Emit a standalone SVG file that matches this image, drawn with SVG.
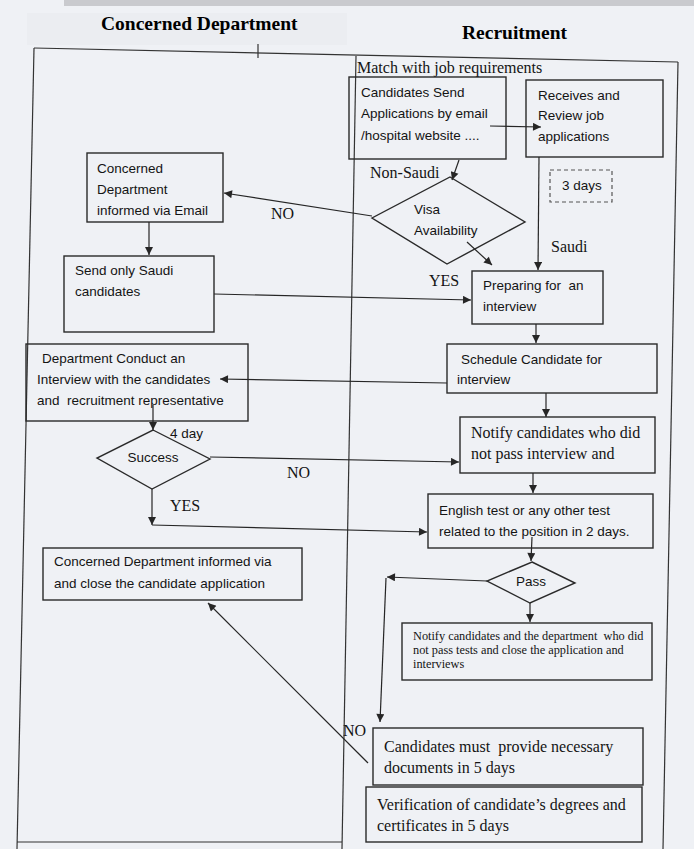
<svg xmlns="http://www.w3.org/2000/svg" width="694" height="849" viewBox="0 0 694 849">
  <defs>
    <marker id="arrow" viewBox="0 0 10 10" refX="10" refY="5" markerWidth="9" markerHeight="8" markerUnits="userSpaceOnUse" orient="auto">
      <path d="M0,0 L10,5 L0,10 z" fill="#262626"/>
    </marker>
    <style>
      text { white-space: pre; }
      .frame { fill: none; stroke: #333; stroke-width: 1.2; }
      .box { fill: none; stroke: #2a2a2a; stroke-width: 1.4; }
      .dash { fill: none; stroke: #555; stroke-width: 1.2; stroke-dasharray: 4 3; }
      .edge { fill: none; stroke: #262626; stroke-width: 1.2; marker-end: url(#arrow); }
      .sans { font-family: "Liberation Sans", Arial, sans-serif; font-size: 13.5px; fill: #141414; }
      .serif { font-family: "Liberation Serif", "Times New Roman", serif; font-size: 16px; fill: #141414; }
      .small { font-family: "Liberation Serif", "Times New Roman", serif; font-size: 12.3px; fill: #141414; }
      .head { font-family: "Liberation Serif", "Times New Roman", serif; font-size: 19.5px; font-weight: bold; fill: #000; }
    </style>
  </defs>

  <!-- page -->
  <rect x="0" y="0" width="694" height="849" fill="#eff1f5"/>
  <rect x="64" y="0" width="630" height="6" fill="#c9cace"/>
  <rect x="27" y="13" width="320" height="32" fill="#ebedf1"/>

  <!-- lane headings -->
  <text class="head" x="101" y="30">Concerned Department</text>
  <text class="head" x="462" y="39">Recruitment</text>

  <!-- swimlane frame -->
  <g id="lanes">
    <path class="frame" d="M34,48 L678,62"/>
    <path class="frame" d="M34,48 L17,849"/>
    <path class="frame" d="M678,62 L663,849"/>
    <path class="frame" d="M356,56 L342,849"/>
    <path class="frame" d="M258,44 L258,58"/>
    <path class="frame" d="M17,842 L342,842"/>
  </g>

  <text class="serif" x="357" y="73">Match with job requirements</text>

  <!-- Recruitment lane -->
  <g id="send-applications">
    <rect class="box" x="349" y="77" width="157" height="82"/>
    <text class="sans" x="361" y="97">Candidates Send</text>
    <text class="sans" x="361" y="118">Applications by email</text>
    <text class="sans" x="361" y="140">/hospital website ....</text>
  </g>

  <g id="review-applications">
    <rect class="box" x="526" y="80" width="137" height="77"/>
    <text class="sans" x="538" y="100">Receives and</text>
    <text class="sans" x="538" y="120">Review job</text>
    <text class="sans" x="538" y="141">applications</text>
  </g>

  <g id="three-days">
    <rect class="dash" x="550" y="170" width="62" height="32"/>
    <text class="sans" x="562" y="190">3 days</text>
  </g>

  <g id="visa-availability">
    <polygon class="box" points="450,177 525,222 447,264 372,218"/>
    <text class="sans" x="414" y="214">Visa</text>
    <text class="sans" x="414" y="235">Availability</text>
  </g>

  <g id="prepare-interview">
    <rect class="box" x="472" y="271" width="131" height="53"/>
    <text class="sans" x="483" y="290">Preparing for  an</text>
    <text class="sans" x="483" y="311">interview</text>
  </g>

  <g id="schedule-interview">
    <rect class="box" x="447" y="344" width="210" height="49"/>
    <text class="sans" x="461" y="364">Schedule Candidate for</text>
    <text class="sans" x="457" y="384">interview</text>
  </g>

  <g id="notify-interview">
    <rect class="box" x="460" y="417" width="195" height="56"/>
    <text class="serif" x="471" y="438">Notify candidates who did</text>
    <text class="serif" x="471" y="459">not pass interview and</text>
  </g>

  <g id="english-test">
    <rect class="box" x="428" y="494" width="225" height="54"/>
    <text class="sans" x="439" y="515">English test or any other test</text>
    <text class="sans" x="439" y="536">related to the position in 2 days.</text>
  </g>

  <g id="pass">
    <polygon class="box" points="532,562 575,583 530,603 487,581"/>
    <text class="sans" x="531" y="586" font-size="11" text-anchor="middle">Pass</text>
  </g>

  <g id="notify-tests">
    <rect class="box" x="402" y="623" width="250" height="57"/>
    <text class="small" x="413" y="640">Notify candidates and the department  who did</text>
    <text class="small" x="413" y="654">not pass tests and close the application and</text>
    <text class="small" x="413" y="668">interviews</text>
  </g>

  <g id="provide-documents">
    <rect class="box" x="373" y="728" width="270" height="57"/>
    <text class="serif" x="384" y="752">Candidates must  provide necessary</text>
    <text class="serif" x="384" y="773">documents in 5 days</text>
  </g>

  <g id="verify-degrees">
    <rect class="box" x="366" y="787" width="276" height="55"/>
    <text class="serif" x="377" y="810">Verification of candidate’s degrees and</text>
    <text class="serif" x="377" y="831">certificates in 5 days</text>
  </g>

  <!-- Concerned Department lane -->
  <g id="informed-email">
    <rect class="box" x="87" y="153" width="136" height="69"/>
    <text class="sans" x="97" y="173">Concerned</text>
    <text class="sans" x="97" y="194">Department</text>
    <text class="sans" x="97" y="215">informed via Email</text>
  </g>

  <g id="send-saudi">
    <rect class="box" x="64" y="256" width="150" height="76"/>
    <text class="sans" x="75" y="275">Send only Saudi</text>
    <text class="sans" x="75" y="296">candidates</text>
  </g>

  <g id="conduct-interview">
    <rect class="box" x="26" y="344" width="222" height="77"/>
    <text class="sans" x="42" y="363">Department Conduct an</text>
    <text class="sans" x="37" y="384">Interview with the candidates</text>
    <text class="sans" x="37" y="405">and  recruitment representative</text>
  </g>

  <g id="success">
    <polygon class="box" points="153,430 210,459 152,489 97,458"/>
    <text class="sans" x="153" y="462" text-anchor="middle">Success</text>
  </g>

  <g id="close-application">
    <rect class="box" x="43" y="548" width="259" height="52"/>
    <text class="sans" x="54" y="566">Concerned Department informed via</text>
    <text class="sans" x="54" y="588">and close the candidate application</text>
  </g>

  <!-- connectors -->
  <g id="connectors">
    <path class="edge" d="M490,126 L541,127"/>
    <path class="edge" d="M459,160 L452,180"/>
    <path class="edge" d="M372,216 L224,193"/>
    <path class="edge" d="M467,242 L492,265"/>
    <path class="edge" d="M539,157 L538,270"/>
    <path class="edge" d="M149,222 L149,255"/>
    <path class="edge" d="M214,294 L471,300"/>
    <path class="edge" d="M536,324 L536,343"/>
    <path class="edge" d="M447,383 L220,379"/>
    <path class="edge" d="M153,405 L153,430"/>
    <path class="edge" d="M210,457 L459,462"/>
    <path class="edge" d="M152,489 L152,525"/>
    <path class="edge" d="M152,525 L427,532"/>
    <path class="edge" d="M546,393 L546,417"/>
    <path class="edge" d="M533,473 L533,493"/>
    <path class="edge" d="M532,537 L531,561"/>
    <path class="edge" d="M487,581 L387,577"/>
    <path class="edge" d="M386,578 L380,722"/>
    <path class="edge" d="M530,603 L530,622"/>
    <path class="edge" d="M368,763 L208,603"/>
  </g>

  <!-- connector labels -->
  <g id="labels">
    <text class="serif" x="370" y="178">Non-Saudi</text>
    <text class="serif" x="271" y="219">NO</text>
    <text class="serif" x="429" y="286">YES</text>
    <text class="serif" x="551" y="252">Saudi</text>
    <text class="sans" x="170" y="438">4 day</text>
    <text class="serif" x="287" y="478">NO</text>
    <text class="serif" x="170" y="511">YES</text>
    <text class="serif" x="343" y="736">NO</text>
  </g>
</svg>
